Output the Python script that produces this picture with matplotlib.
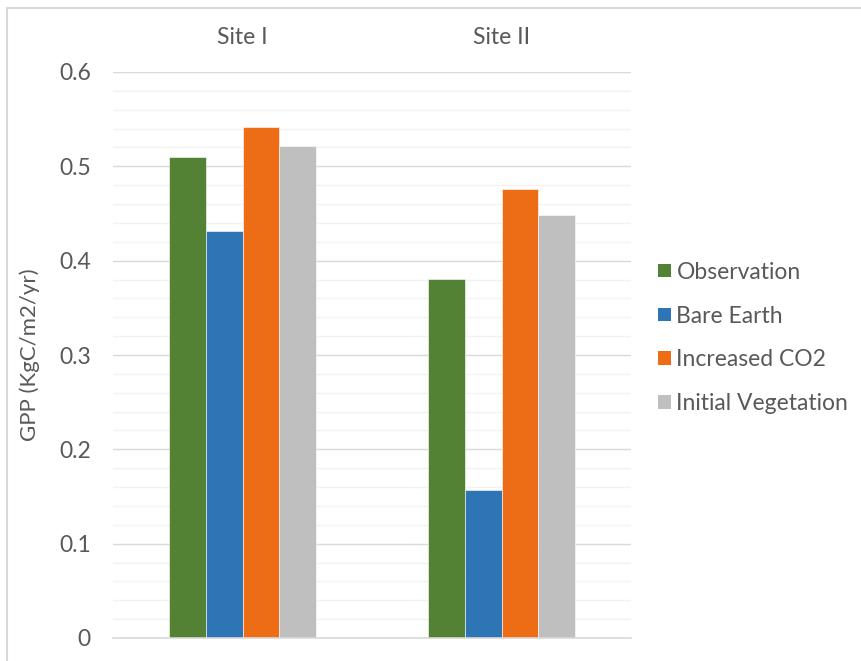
import matplotlib
matplotlib.use("Agg")
import matplotlib.pyplot as plt
from matplotlib.patches import Patch, Rectangle
import numpy as np

plt.rcParams['font.family'] = ['Lato', 'DejaVu Sans']

sites = ["Site I", "Site II"]
series = ["Observation", "Bare Earth", "Increased CO2", "Initial Vegetation"]
observation = [0.510, 0.381]
bare_earth = [0.431, 0.157]
increased_co2 = [0.542, 0.476]
initial_vegetation = [0.522, 0.448]
yticks = [0, 0.1, 0.2, 0.3, 0.4, 0.5, 0.6]
ytick_labels = ["0", "0.1", "0.2", "0.3", "0.4", "0.5", "0.6"]

colors = ["#548235", "#2E75B6", "#ED6D17", "#BFBFBF"]
values = [observation, bare_earth, increased_co2, initial_vegetation]
txt = "#595959"

fig = plt.figure(figsize=(8.61, 6.61), dpi=100)
ax = fig.add_axes([113/861, 23/661, 518/861, 566/661])

x = np.arange(len(sites))
w = 0.5714 / 4
for i, (vals, c) in enumerate(zip(values, colors)):
    ax.bar(x + (i - 1.5) * w, vals, width=w, color=c, edgecolor='white',
           linewidth=0.4, label=series[i], zorder=3)

ax.set_xlim(-0.5, 1.5)
ax.set_ylim(0, 0.6)
ax.set_yticks(yticks)
ax.set_yticklabels(ytick_labels)
ax.set_yticks(np.arange(0, 0.6001, 0.02), minor=True)
ax.grid(axis='y', which='major', color='#D9D9D9', linewidth=1.0, zorder=0)
ax.grid(axis='y', which='minor', color='#F2F2F2', linewidth=1.0, zorder=0)
ax.tick_params(axis='y', which='both', length=0, labelsize=16.5, labelcolor=txt, pad=16)

ax.xaxis.tick_top()
ax.set_xticks(x)
ax.set_xticklabels(sites)
ax.tick_params(axis='x', length=0, labelsize=16.5, labelcolor=txt, pad=17)

for s in ['top', 'left', 'right']:
    ax.spines[s].set_visible(False)
ax.spines['bottom'].set_color('#D9D9D9')
ax.spines['bottom'].set_linewidth(1.2)
ax.spines['bottom'].set_zorder(4)

ax.set_ylabel("GPP (KgC/m2/yr)", fontsize=16, color=txt)
ax.yaxis.set_label_coords(-113/518 + 40/518, 0.5)

handles = [Patch(facecolor=c, edgecolor='none', label=s) for c, s in zip(colors, series)]
leg = fig.legend(handles=handles, loc='center left',
                 bbox_to_anchor=(649/861, 1 - 338/661), frameon=False,
                 fontsize=16.5, labelcolor=txt, handlelength=0.55, handleheight=0.55,
                 handletextpad=0.25, labelspacing=1.0, borderaxespad=0)

fig.patches.append(Rectangle((7/861, -0.1), 1.2, 1 - 8/661 + 0.1, transform=fig.transFigure,
                             fill=False, edgecolor='#D9D9D9', linewidth=1.5))

fig.savefig("out.png", dpi=100)
